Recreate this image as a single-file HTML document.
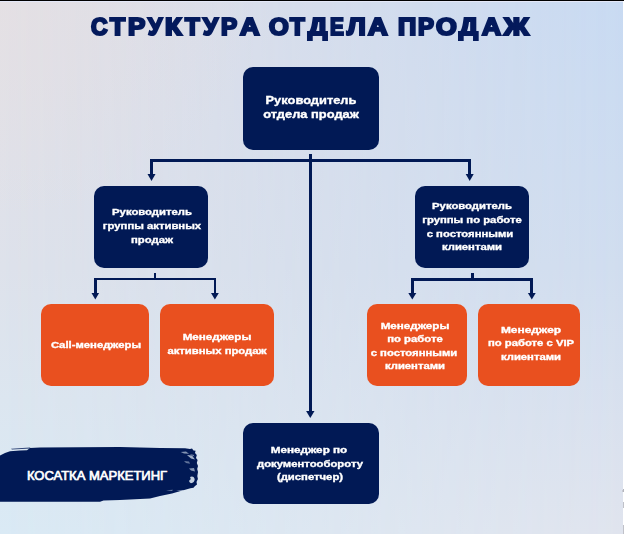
<!DOCTYPE html>
<html><head><meta charset="utf-8"><style>
html,body{margin:0;padding:0;}
body{width:624px;height:534px;overflow:hidden;position:relative;font-family:"Liberation Sans",sans-serif;}
#bgA{position:absolute;left:0;top:0;width:624px;height:534px;background:linear-gradient(to bottom,#e3e0e6 0%,#dee2eb 50%,#daeaf5 100%);}
#bgB{position:absolute;left:0;top:0;width:624px;height:534px;background:linear-gradient(to bottom,#c8daf2 0%,#d0ddef 50%,#e0e4ee 100%);
 -webkit-mask-image:linear-gradient(to right,transparent 0%,black 100%);mask-image:linear-gradient(to right,transparent 0%,black 100%);}
#bgC{position:absolute;left:0;top:0;width:624px;height:534px;background:radial-gradient(ellipse 260px 220px at 0 0, rgba(230,224,225,0.45), rgba(230,224,225,0) 100%);}
.b{position:absolute;border-radius:10px;}
.l{position:absolute;background:#011955;}
.t{position:absolute;width:220px;text-align:center;color:#fff;font-weight:bold;line-height:14px;white-space:nowrap;transform-origin:50% 50%;-webkit-text-stroke:0.35px #fff;}
.tw{position:absolute;color:#041a5c;font-weight:bold;font-size:23.8px;line-height:40px;white-space:nowrap;-webkit-text-stroke:2.2px #041a5c;transform-origin:0 0;}
</style></head><body>
<div id="bgA"></div><div id="bgB"></div><div id="bgC"></div>
<div style="position:absolute;left:0;top:0;width:624px;height:1px;background:#000"></div>
<div style="position:absolute;left:0;top:1px;width:624px;height:1px;background:#e4e8f8"></div>
<div style="position:absolute;left:623px;top:1px;width:1px;height:533px;background:#fff"></div>
<div style="position:absolute;left:623px;top:489px;width:1px;height:3px;background:#b4b5bc"></div>
<div style="position:absolute;left:622px;top:490px;width:1px;height:1.5px;background:#c8cad2"></div>
<div style="position:absolute;left:623px;top:502px;width:1px;height:5.5px;background:#c0c1c8"></div>
<div style="position:absolute;left:623px;top:525px;width:1px;height:9px;background:#c0c1c8"></div>

<div class="tw" style="left:91.40px;top:7.4px;transform:scaleX(0.9611)">С</div>
<div class="tw" style="left:110.38px;top:7.4px;transform:scaleX(1.0400)">Т</div>
<div class="tw" style="left:127.86px;top:7.4px;transform:scaleX(1.0857)">Р</div>
<div class="tw" style="left:147.97px;top:7.4px;transform:scaleX(0.9568)">У</div>
<div class="tw" style="left:164.93px;top:7.4px;transform:scaleX(1.1438)">К</div>
<div class="tw" style="left:185.46px;top:7.4px;transform:scaleX(1.0092)">Т</div>
<div class="tw" style="left:202.87px;top:7.4px;transform:scaleX(1.0108)">У</div>
<div class="tw" style="left:220.99px;top:7.4px;transform:scaleX(1.0159)">Р</div>
<div class="tw" style="left:239.74px;top:7.4px;transform:scaleX(1.1368)">А</div>
<div class="tw" style="left:269.00px;top:7.4px;transform:scaleX(1.0649)">О</div>
<div class="tw" style="left:290.36px;top:7.4px;transform:scaleX(1.0092)">Т</div>
<div class="tw" style="left:307.74px;top:7.4px;transform:scaleX(1.1351)">Д</div>
<div class="tw" style="left:330.06px;top:7.4px;transform:scaleX(0.8710)">Е</div>
<div class="tw" style="left:347.42px;top:7.4px;transform:scaleX(1.1188)">Л</div>
<div class="tw" style="left:368.14px;top:7.4px;transform:scaleX(1.1421)">А</div>
<div class="tw" style="left:398.22px;top:7.4px;transform:scaleX(1.0656)">П</div>
<div class="tw" style="left:418.20px;top:7.4px;transform:scaleX(1.0032)">Р</div>
<div class="tw" style="left:435.50px;top:7.4px;transform:scaleX(1.1189)">О</div>
<div class="tw" style="left:459.02px;top:7.4px;transform:scaleX(1.1189)">Д</div>
<div class="tw" style="left:482.11px;top:7.4px;transform:scaleX(1.1053)">А</div>
<div class="tw" style="left:504.01px;top:7.4px;transform:scaleX(1.1485)">Ж</div>
<div class="b" style="left:243px;top:67px;width:136.00px;height:82.50px;background:#011955"></div>
<div class="b" style="left:94px;top:186px;width:114.30px;height:82.00px;background:#011955"></div>
<div class="b" style="left:415px;top:186px;width:113.50px;height:82.00px;background:#011955"></div>
<div class="b" style="left:243px;top:423px;width:136.00px;height:81.00px;background:#011955"></div>
<div class="b" style="left:41px;top:304.3px;width:108.00px;height:81.70px;background:#e9501f"></div>
<div class="b" style="left:159.5px;top:304.3px;width:114.50px;height:81.70px;background:#e9501f"></div>
<div class="b" style="left:367px;top:304.3px;width:100.30px;height:81.70px;background:#e9501f"></div>
<div class="b" style="left:478px;top:304.3px;width:102.00px;height:82.00px;background:#e9501f"></div>
<div class="l" style="left:150px;top:159.2px;width:321.20px;height:2.70px"></div>
<div class="l" style="left:150px;top:159.2px;width:3.00px;height:15.80px"></div>
<div class="l" style="left:468.2px;top:159.2px;width:3.00px;height:15.80px"></div>
<div class="l" style="left:309.2px;top:153.5px;width:3.00px;height:258.50px"></div>
<div class="l" style="left:153.6px;top:272.5px;width:2.60px;height:7.50px"></div>
<div class="l" style="left:94px;top:278px;width:122.30px;height:2.40px"></div>
<div class="l" style="left:94px;top:278px;width:2.70px;height:16.00px"></div>
<div class="l" style="left:213.5px;top:278px;width:2.80px;height:16.00px"></div>
<div class="l" style="left:471px;top:272.5px;width:2.60px;height:7.50px"></div>
<div class="l" style="left:411px;top:278.2px;width:122.10px;height:2.40px"></div>
<div class="l" style="left:411px;top:278.2px;width:2.90px;height:15.80px"></div>
<div class="l" style="left:530.3px;top:278.2px;width:2.80px;height:15.80px"></div>
<svg width="624" height="534" style="position:absolute;left:0;top:0"><path d="M147.50 174 L155.50 174 L151.50 181 Z" fill="#011955"/><path d="M465.70 174 L473.70 174 L469.70 181 Z" fill="#011955"/><path d="M306.10 411 L314.50 411 L310.30 418 Z" fill="#011955"/><path d="M91.50 293 L99.10 293 L95.30 299.6 Z" fill="#011955"/><path d="M211.00 293 L218.80 293 L214.90 299.6 Z" fill="#011955"/><path d="M408.30 293 L416.30 293 L412.30 299.6 Z" fill="#011955"/><path d="M527.90 293 L535.70 293 L531.80 299.6 Z" fill="#011955"/><path fill="#011955" d="M0 455.5 L5 453 L10 451.2 L20 450.6 L27 450.2 L30 448 L40 447.5 L120 447 L160 447.9 L185 448.2 L190 449 L192 448.4 L193.5 450.4 L195.6 450.8 L195 453 L196.8 455 L196 458 L197.6 460 L196.8 463 L198 466 L197.2 469 L198 472 L197.3 476 L197.9 479 L196.5 482 L197 484.5 L195 486 L193.5 487.8 L190.4 488.3 L184.3 490 L178 491.7 L172 493.5 L166 494.7 L160 496 L150 498.5 L120 500 L103.5 500.4 L100 501.8 L0 501.8 Z"/><path d="M180.7 452 L186 451.6 L189 453.8 L184 453.6 Z" fill="#d9e4f0" opacity="0.6"/><path d="M187 455 L192 455.6 L195 459.5 L191 458.6 Z" fill="#d9e4f0" opacity="0.75"/><path d="M189.5 454.2 L193.5 454.8 L194.5 456.5 Z" fill="#d9e4f0" opacity="0.6"/><path d="M184 461 L189 461.5 L190 463.8 L186 463 Z" fill="#d9e4f0" opacity="0.45"/><path d="M189 468.5 L194 468 L195 471.6 L191 470.5 Z" fill="#d9e4f0" opacity="0.6"/><path d="M166 490.2 L173 489.8 L172 491 Z" fill="#d9e4f0" opacity="0.5"/><path d="M176 490.6 L184 490 L183 491.6 Z" fill="#d9e4f0" opacity="0.55"/><path d="M11 448.8 L30 447.5 L31 448.6 L12 449.6 Z" fill="#011955" opacity="0.8"/><path d="M190 477 Q193.5 475.5 194.7 479 Q194.5 483 191 483.2 Q188.3 482 189.6 480 Q191.5 479.5 190 477 Z" fill="#d9e4f0" opacity="0.9"/></svg>
<div class="t" style="left:201.00px;top:92.73px;font-size:10.6px;transform:scaleX(1.215)">Руководитель</div>
<div class="t" style="left:201.00px;top:107.43px;font-size:10.6px;transform:scaleX(1.215)">отдела продаж</div>
<div class="t" style="left:41.50px;top:205.48px;font-size:9.3px;transform:scaleX(1.215)">Руководитель</div>
<div class="t" style="left:41.50px;top:219.28px;font-size:9.3px;transform:scaleX(1.215)">группы активных</div>
<div class="t" style="left:41.50px;top:232.78px;font-size:9.3px;transform:scaleX(1.215)">продаж</div>
<div class="t" style="left:362.00px;top:199.38px;font-size:9.3px;transform:scaleX(1.215)">Руководитель</div>
<div class="t" style="left:362.00px;top:213.18px;font-size:9.3px;transform:scaleX(1.215)">группы по работе</div>
<div class="t" style="left:360.00px;top:226.78px;font-size:9.3px;transform:scaleX(1.215)">с постоянными</div>
<div class="t" style="left:362.00px;top:240.38px;font-size:9.3px;transform:scaleX(1.215)">клиентами</div>
<div class="t" style="left:-14.00px;top:337.98px;font-size:9.3px;transform:scaleX(1.215)">Call-менеджеры</div>
<div class="t" style="left:107.00px;top:330.48px;font-size:9.3px;transform:scaleX(1.2514500000000002)">Менеджеры</div>
<div class="t" style="left:107.00px;top:344.28px;font-size:9.3px;transform:scaleX(1.215)">активных продаж</div>
<div class="t" style="left:305.00px;top:319.08px;font-size:9.3px;transform:scaleX(1.2514500000000002)">Менеджеры</div>
<div class="t" style="left:305.00px;top:332.18px;font-size:9.3px;transform:scaleX(1.215)">по работе</div>
<div class="t" style="left:304.00px;top:345.78px;font-size:9.3px;transform:scaleX(1.215)">с постоянными</div>
<div class="t" style="left:305.00px;top:359.48px;font-size:9.3px;transform:scaleX(1.215)">клиентами</div>
<div class="t" style="left:421.00px;top:322.88px;font-size:9.3px;transform:scaleX(1.281825)">Менеджер</div>
<div class="t" style="left:421.00px;top:336.48px;font-size:9.3px;transform:scaleX(1.215)">по работе с VIP</div>
<div class="t" style="left:421.00px;top:350.48px;font-size:9.3px;transform:scaleX(1.215)">клиентами</div>
<div class="t" style="left:199.40px;top:443.38px;font-size:9.3px;transform:scaleX(1.257525)">Менеджер по</div>
<div class="t" style="left:200.40px;top:456.68px;font-size:9.3px;transform:scaleX(1.215)">документообороту</div>
<div class="t" style="left:200.40px;top:470.18px;font-size:9.3px;transform:scaleX(1.215)">(диспетчер)</div>
<div class="t" style="left:-13px;top:468.6px;width:220px;font-size:13px;font-weight:normal;-webkit-text-stroke:0.7px #fff">КОСАТКА МАРКЕТИНГ</div>
</body></html>
